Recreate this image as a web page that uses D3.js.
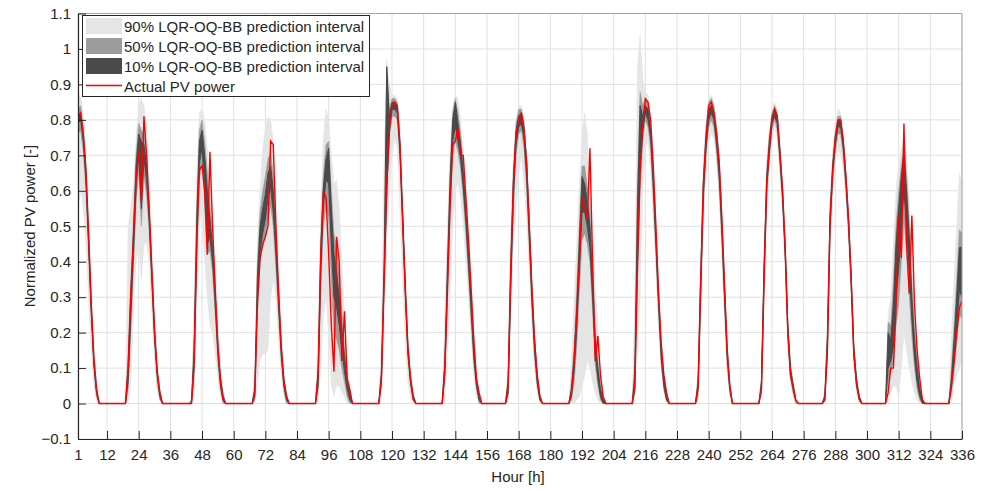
<!DOCTYPE html>
<html>
<head>
<meta charset="utf-8">
<script src="https://cdn.jsdelivr.net/npm/d3@7"></script>
<style>
  body { margin: 0; background: #fff; }
  svg { display: block; font-family: "Liberation Sans", Arial, sans-serif; }
</style>
</head>
<body>
<svg id="chart" width="991" height="491"></svg>
<script>
// first hour of each daylight window (all other hours are 0)
const winStart = [1, 19, 43, 67, 91, 115, 139, 163, 187, 211, 235, 259, 283, 307, 331];

// actual PV power, per daylight window
const actual = [
  [0.81,0.82,0.76,0.66,0.48,0.28,0.13,0.04,0],
  [0,0.10,0.31,0.46,0.63,0.71,0.57,0.81,0.70,0.54,0.37,0.20,0.09,0.03,0],
  [0,0,0.12,0.45,0.66,0.67,0.60,0.42,0.71,0.50,0.32,0.16,0.06,0.01,0],
  [0,0.03,0.28,0.41,0.45,0.47,0.50,0.74,0.73,0.50,0.31,0.16,0.06,0.02,0],
  [0,0.08,0.42,0.60,0.58,0.42,0.22,0.09,0.47,0.40,0.12,0.26,0.07,0.04,0],
  [0,0.08,0.35,0.62,0.77,0.84,0.85,0.84,0.73,0.52,0.32,0.16,0.07,0.02,0],
  [0,0.10,0.32,0.55,0.73,0.74,0.78,0.70,0.70,0.58,0.46,0.32,0.18,0.07,0.03],
  [0,0.05,0.38,0.62,0.76,0.80,0.82,0.77,0.68,0.50,0.32,0.18,0.08,0.02,0],
  [0,0.03,0.12,0.25,0.40,0.58,0.55,0.52,0.72,0.40,0.12,0.19,0.08,0.02,0],
  [0,0.05,0.38,0.65,0.78,0.86,0.85,0.80,0.67,0.50,0.31,0.17,0.08,0.03,0],
  [0,0.05,0.35,0.62,0.75,0.84,0.85,0.82,0.76,0.68,0.52,0.33,0.15,0.05,0],
  [0,0.04,0.35,0.62,0.72,0.80,0.83,0.81,0.71,0.60,0.44,0.20,0.08,0.05,0.01],
  [0,0.01,0.15,0.52,0.66,0.75,0.80,0.80,0.74,0.64,0.52,0.35,0.14,0.06,0.02],
  [0,0.03,0.10,0.10,0.27,0.53,0.41,0.79,0.45,0.31,0.53,0.28,0.15,0.07,0.01],
  [0,0.05,0.12,0.20,0.27,0.29]
];

// 90% prediction interval
const lo90 = [
  [0.55,0.60,0.55,0.45,0.30,0.15,0.05,0.01,0],
  [0,0,0.05,0.25,0.40,0.45,0.35,0.45,0.45,0.40,0.25,0.12,0.04,0.01,0],
  [0,0,0.02,0.25,0.50,0.55,0.40,0.30,0.22,0.20,0.14,0.07,0.02,0,0],
  [0,0,0.05,0.12,0.14,0.14,0.15,0.30,0.35,0.30,0.18,0.08,0.02,0,0],
  [0,0,0.10,0.25,0.30,0.20,0.05,0.02,0.05,0.05,0.03,0.02,0,0,0],
  [0,0.01,0.20,0.45,0.60,0.70,0.75,0.72,0.55,0.35,0.18,0.06,0.02,0,0],
  [0,0,0.12,0.30,0.50,0.60,0.62,0.58,0.50,0.40,0.30,0.18,0.08,0.02,0],
  [0,0,0.25,0.45,0.55,0.65,0.70,0.62,0.52,0.38,0.22,0.10,0.03,0,0],
  [0,0,0,0.01,0.02,0.05,0.08,0.12,0.10,0.06,0.03,0.01,0,0,0],
  [0,0,0.15,0.30,0.60,0.72,0.74,0.66,0.52,0.38,0.22,0.10,0.03,0,0],
  [0,0.01,0.25,0.50,0.65,0.74,0.76,0.75,0.68,0.58,0.42,0.24,0.09,0.02,0],
  [0,0.02,0.30,0.55,0.66,0.74,0.78,0.75,0.65,0.54,0.38,0.16,0.06,0.02,0],
  [0,0,0.12,0.44,0.58,0.68,0.72,0.70,0.66,0.58,0.46,0.30,0.11,0.04,0],
  [0,0,0.03,0.05,0.05,0.02,0.10,0.20,0.15,0.10,0.06,0.03,0.01,0,0],
  [0,0,0.05,0.08,0.10,0.12]
];
const hi90 = [
  [0.87,0.87,0.82,0.72,0.55,0.36,0.18,0.07,0.01],
  [0.02,0.50,0.55,0.62,0.75,0.84,0.86,0.84,0.78,0.62,0.45,0.28,0.13,0.05,0],
  [0,0.02,0.30,0.65,0.82,0.83,0.80,0.72,0.62,0.52,0.40,0.25,0.12,0.04,0],
  [0,0.10,0.45,0.60,0.72,0.78,0.81,0.80,0.74,0.58,0.40,0.22,0.10,0.03,0],
  [0,0.20,0.55,0.75,0.83,0.80,0.70,0.62,0.63,0.55,0.40,0.25,0.12,0.05,0],
  [0,0.20,0.70,0.97,0.90,0.87,0.87,0.86,0.78,0.60,0.40,0.20,0.10,0.03,0],
  [0,0.25,0.50,0.72,0.84,0.87,0.86,0.80,0.72,0.62,0.50,0.36,0.22,0.10,0.04],
  [0,0.12,0.50,0.70,0.80,0.84,0.84,0.80,0.70,0.53,0.35,0.20,0.10,0.03,0],
  [0,0.12,0.30,0.45,0.62,0.76,0.82,0.76,0.62,0.50,0.35,0.22,0.10,0.03,0],
  [0,0.30,0.95,1.04,0.92,0.88,0.87,0.82,0.70,0.53,0.35,0.20,0.10,0.04,0],
  [0,0.10,0.42,0.67,0.79,0.86,0.87,0.85,0.79,0.70,0.55,0.37,0.19,0.07,0],
  [0,0.08,0.43,0.68,0.77,0.83,0.85,0.83,0.73,0.62,0.46,0.24,0.12,0.06,0.01],
  [0,0.04,0.23,0.57,0.71,0.79,0.83,0.82,0.76,0.66,0.54,0.38,0.18,0.08,0.02],
  [0,0.25,0.30,0.45,0.60,0.68,0.72,0.75,0.70,0.58,0.42,0.28,0.15,0.07,0.02],
  [0,0.20,0.35,0.50,0.65,0.62]
];

// 50% prediction interval
const lo50 = [
  [0.76,0.77,0.71,0.60,0.42,0.24,0.10,0.02,0],
  [0,0.04,0.20,0.38,0.56,0.66,0.50,0.64,0.59,0.48,0.32,0.17,0.06,0.01,0],
  [0,0,0.07,0.40,0.63,0.68,0.57,0.42,0.43,0.37,0.25,0.12,0.04,0,0],
  [0,0.01,0.26,0.40,0.44,0.47,0.52,0.56,0.50,0.38,0.25,0.12,0.04,0,0],
  [0,0.04,0.32,0.50,0.56,0.52,0.35,0.20,0.18,0.15,0.10,0.06,0.02,0,0],
  [0,0.05,0.31,0.56,0.75,0.81,0.81,0.80,0.69,0.50,0.30,0.13,0.05,0.01,0],
  [0,0.06,0.29,0.54,0.70,0.74,0.71,0.66,0.58,0.48,0.36,0.23,0.11,0.04,0],
  [0,0.02,0.30,0.54,0.70,0.76,0.77,0.72,0.61,0.44,0.27,0.13,0.05,0.01,0],
  [0,0.01,0.06,0.16,0.32,0.46,0.48,0.45,0.40,0.26,0.11,0.05,0.01,0,0],
  [0,0.03,0.35,0.60,0.74,0.80,0.78,0.72,0.58,0.42,0.25,0.11,0.04,0.01,0],
  [0,0.02,0.28,0.55,0.70,0.78,0.80,0.78,0.71,0.61,0.45,0.27,0.11,0.03,0],
  [0,0.03,0.33,0.58,0.69,0.77,0.80,0.77,0.67,0.56,0.40,0.18,0.07,0.03,0],
  [0,0.01,0.14,0.47,0.62,0.71,0.76,0.76,0.70,0.60,0.48,0.32,0.13,0.05,0.01],
  [0,0.06,0.09,0.12,0.22,0.28,0.40,0.52,0.43,0.31,0.19,0.10,0.04,0.01,0],
  [0,0.03,0.09,0.17,0.25,0.24]
];
const hi50 = [
  [0.83,0.84,0.78,0.67,0.49,0.30,0.14,0.05,0],
  [0,0.14,0.34,0.52,0.70,0.79,0.77,0.76,0.70,0.57,0.40,0.23,0.10,0.04,0],
  [0,0.01,0.19,0.56,0.77,0.80,0.74,0.65,0.56,0.47,0.34,0.19,0.08,0.03,0],
  [0,0.06,0.40,0.54,0.60,0.64,0.69,0.71,0.64,0.50,0.34,0.18,0.08,0.03,0],
  [0,0.11,0.47,0.65,0.73,0.74,0.60,0.48,0.44,0.36,0.26,0.16,0.08,0.03,0],
  [0,0.10,0.42,0.95,0.83,0.86,0.86,0.85,0.75,0.56,0.36,0.18,0.08,0.03,0],
  [0,0.13,0.41,0.66,0.82,0.86,0.82,0.76,0.68,0.57,0.45,0.31,0.17,0.07,0.02],
  [0,0.08,0.42,0.66,0.79,0.83,0.83,0.80,0.70,0.53,0.35,0.19,0.09,0.03,0],
  [0,0.06,0.16,0.32,0.50,0.67,0.67,0.61,0.54,0.39,0.22,0.12,0.05,0.02,0],
  [0,0.12,0.62,0.88,0.84,0.86,0.85,0.79,0.66,0.49,0.32,0.17,0.08,0.03,0],
  [0,0.08,0.40,0.65,0.78,0.85,0.86,0.84,0.78,0.69,0.53,0.35,0.17,0.06,0],
  [0,0.07,0.41,0.66,0.76,0.82,0.84,0.82,0.72,0.61,0.45,0.23,0.11,0.06,0.01],
  [0,0.03,0.21,0.55,0.69,0.77,0.81,0.81,0.75,0.65,0.53,0.37,0.17,0.08,0.02],
  [0,0.23,0.22,0.34,0.50,0.60,0.67,0.73,0.64,0.51,0.34,0.21,0.12,0.05,0.01],
  [0,0.10,0.22,0.35,0.49,0.48]
];

// 10% prediction interval
const lo10 = [
  [0.79,0.80,0.74,0.63,0.45,0.26,0.11,0.03,0],
  [0,0.06,0.24,0.42,0.61,0.71,0.55,0.69,0.63,0.51,0.35,0.19,0.08,0.02,0],
  [0,0,0.10,0.45,0.68,0.72,0.62,0.45,0.47,0.40,0.28,0.14,0.05,0.01,0],
  [0,0.02,0.30,0.43,0.48,0.52,0.58,0.61,0.54,0.42,0.28,0.14,0.05,0.01,0],
  [0,0.05,0.37,0.56,0.63,0.62,0.45,0.30,0.27,0.22,0.15,0.09,0.04,0.01,0],
  [0,0.06,0.34,0.60,0.77,0.83,0.83,0.82,0.71,0.52,0.32,0.14,0.06,0.01,0],
  [0,0.08,0.33,0.58,0.74,0.78,0.74,0.69,0.61,0.51,0.39,0.26,0.13,0.05,0.01],
  [0,0.03,0.33,0.58,0.73,0.78,0.79,0.75,0.64,0.47,0.29,0.15,0.06,0.01,0],
  [0,0.02,0.09,0.21,0.38,0.54,0.54,0.50,0.44,0.30,0.14,0.07,0.02,0,0],
  [0,0.04,0.40,0.66,0.77,0.82,0.80,0.75,0.61,0.45,0.28,0.13,0.05,0.01,0],
  [0,0.04,0.32,0.59,0.72,0.80,0.82,0.80,0.73,0.64,0.48,0.30,0.13,0.04,0],
  [0,0.04,0.36,0.61,0.71,0.79,0.81,0.79,0.69,0.58,0.42,0.20,0.08,0.04,0.01],
  [0,0.01,0.16,0.50,0.65,0.73,0.78,0.78,0.72,0.62,0.50,0.34,0.14,0.05,0.01],
  [0,0.10,0.12,0.16,0.30,0.38,0.50,0.60,0.50,0.38,0.24,0.13,0.06,0.02,0],
  [0,0.05,0.12,0.22,0.32,0.30]
];
const hi10 = [
  [0.81,0.82,0.76,0.65,0.47,0.28,0.12,0.04,0],
  [0,0.10,0.30,0.48,0.67,0.76,0.74,0.73,0.67,0.54,0.37,0.21,0.09,0.03,0],
  [0,0,0.15,0.52,0.74,0.77,0.70,0.60,0.52,0.44,0.31,0.16,0.07,0.02,0],
  [0,0.04,0.36,0.50,0.55,0.59,0.65,0.67,0.60,0.46,0.31,0.16,0.07,0.02,0],
  [0,0.09,0.43,0.61,0.69,0.72,0.55,0.42,0.37,0.30,0.21,0.13,0.06,0.03,0],
  [0,0.08,0.38,0.95,0.81,0.85,0.85,0.84,0.73,0.54,0.34,0.16,0.07,0.02,0],
  [0,0.11,0.38,0.63,0.80,0.85,0.79,0.73,0.65,0.54,0.42,0.28,0.15,0.06,0.02],
  [0,0.06,0.38,0.63,0.77,0.81,0.82,0.78,0.68,0.51,0.33,0.18,0.08,0.02,0],
  [0,0.04,0.13,0.27,0.46,0.64,0.62,0.57,0.50,0.35,0.18,0.10,0.04,0.01,0],
  [0,0.08,0.55,0.84,0.81,0.84,0.83,0.77,0.64,0.47,0.30,0.15,0.07,0.03,0],
  [0,0.06,0.36,0.62,0.75,0.83,0.84,0.82,0.76,0.67,0.51,0.33,0.15,0.05,0],
  [0,0.06,0.39,0.64,0.74,0.81,0.83,0.81,0.71,0.60,0.44,0.22,0.10,0.05,0.01],
  [0,0.02,0.19,0.53,0.67,0.75,0.80,0.80,0.74,0.64,0.52,0.36,0.16,0.07,0.02],
  [0,0.20,0.18,0.28,0.45,0.55,0.64,0.71,0.60,0.47,0.30,0.18,0.10,0.04,0.01],
  [0,0.07,0.18,0.30,0.44,0.44]
];

const xTicks = [1, 12, 24, 36, 48, 60, 72, 84, 96, 108, 120, 132, 144, 156, 168, 180,
  192, 204, 216, 228, 240, 252, 264, 276, 288, 300, 312, 324, 336];
const yTicks = [-0.1, 0, 0.1, 0.2, 0.3, 0.4, 0.5, 0.6, 0.7, 0.8, 0.9, 1, 1.1];
const legendLabels = ["90% LQR-OQ-BB prediction interval", "50% LQR-OQ-BB prediction interval",
  "10% LQR-OQ-BB prediction interval", "Actual PV power"];

// expand the windows into one value per hour (nights are 0)
function hourly(wins) {
  let out = new Array(336).fill(0);
  wins.forEach(function(w, i) {
    w.forEach(function(v, j) { out[winStart[i] + j - 1] = v; });
  });
  return out;
}

let rows = d3.range(336).map(function(i) { return {h: i + 1}; });
[["actual", actual], ["lo90", lo90], ["hi90", hi90], ["lo50", lo50], ["hi50", hi50],
 ["lo10", lo10], ["hi10", hi10]].forEach(function(p) {
  let vals = hourly(p[1]);
  rows.forEach(function(r, i) { r[p[0]] = vals[i]; });
});

const mLeft = 78, mRight = 962, mTop = 13.5, mBottom = 439;
const svg = d3.select("#chart");

let x = d3.scaleLinear().domain([1, 336]).range([mLeft, mRight]);
let y = d3.scaleLinear().domain([-0.1, 1.1]).range([mBottom, mTop]);

// grid
svg.append("g").selectAll("line").data(xTicks).join("line")
  .attr("x1", d => x(d)).attr("x2", d => x(d)).attr("y1", mTop).attr("y2", mBottom)
  .attr("stroke", "#e0e0e0").attr("stroke-width", 1);
svg.append("g").selectAll("line").data(yTicks).join("line")
  .attr("x1", mLeft).attr("x2", mRight).attr("y1", d => y(d)).attr("y2", d => y(d))
  .attr("stroke", "#e0e0e0").attr("stroke-width", 1);

svg.append("clipPath").attr("id", "clip").append("rect")
  .attr("x", mLeft).attr("y", mTop).attr("width", mRight - mLeft).attr("height", mBottom - mTop);
let plot = svg.append("g").attr("clip-path", "url(#clip)");

function band(lo, hi) {
  return d3.area().x(d => x(d.h)).y0(d => y(d[lo])).y1(d => y(d[hi]))(rows);
}
plot.append("path").attr("d", band("lo90", "hi90")).attr("fill", "#e5e5e5")
  .attr("stroke", "#e5e5e5").attr("stroke-width", 0.6);
plot.append("path").attr("d", band("lo50", "hi50")).attr("fill", "#9c9c9c")
  .attr("stroke", "#9c9c9c").attr("stroke-width", 0.6);
plot.append("path").attr("d", band("lo10", "hi10")).attr("fill", "#4a4a4a")
  .attr("stroke", "#4a4a4a").attr("stroke-width", 1);

let lineFunction = d3.line().x(d => x(d.h)).y(d => y(d.actual));
plot.append("path").attr("d", lineFunction(rows))
  .attr("fill", "none").attr("stroke", "#ff0000").attr("stroke-width", 1.4);

// box (top / right)
svg.append("path").attr("d", `M${mLeft},${mTop}H${mRight}V${mBottom}`)
  .attr("fill", "none").attr("stroke", "#a6a6a6").attr("stroke-width", 1);

// axes
let xAxis = d3.axisBottom(x).tickValues(xTicks).tickSizeInner(-8).tickSizeOuter(0).tickPadding(10);
let yAxis = d3.axisLeft(y).tickValues(yTicks).tickSizeInner(-8).tickSizeOuter(0).tickPadding(7)
  .tickFormat(d => d3.format("~g")(+d.toFixed(1)));

let gx = svg.append("g").attr("transform", `translate(0,${mBottom})`).call(xAxis);
let gy = svg.append("g").attr("transform", `translate(${mLeft},0)`).call(yAxis);
[gx, gy].forEach(function(g) {
  g.select(".domain").attr("stroke", "#262626").attr("stroke-width", 1.2);
  g.selectAll(".tick line").attr("stroke", "#262626");
  g.selectAll(".tick text").attr("fill", "#262626").style("font-size", "15px")
    .style("font-family", '"Liberation Sans", Arial, sans-serif');
});

svg.append("text").attr("x", 518).attr("y", 482).attr("text-anchor", "middle")
  .attr("fill", "#262626").style("font-size", "15px").text("Hour [h]");
svg.append("text").attr("transform", "translate(35,226) rotate(-90)")
  .attr("text-anchor", "middle").attr("fill", "#262626").style("font-size", "15px")
  .text("Normalized PV power [-]");

// legend
let lg = svg.append("g");
lg.append("rect").attr("x", 82.5).attr("y", 15.5).attr("width", 287).attr("height", 81)
  .attr("fill", "#fff").attr("stroke", "#262626").attr("stroke-width", 1);
const swatchColors = ["#e5e5e5", "#9c9c9c", "#4a4a4a"];
swatchColors.forEach(function(c, i) {
  lg.append("rect").attr("x", 86).attr("y", 18 + i * 20).attr("width", 36).attr("height", 16)
    .attr("fill", c);
});
lg.append("line").attr("x1", 86).attr("x2", 122).attr("y1", 85.5).attr("y2", 85.5)
  .attr("stroke", "#ff0000").attr("stroke-width", 1.3);
legendLabels.forEach(function(t, i) {
  lg.append("text").attr("x", 124).attr("y", 32 + i * 20).attr("fill", "#262626")
    .style("font-size", "15px").text(t);
});
</script>
</body>
</html>
